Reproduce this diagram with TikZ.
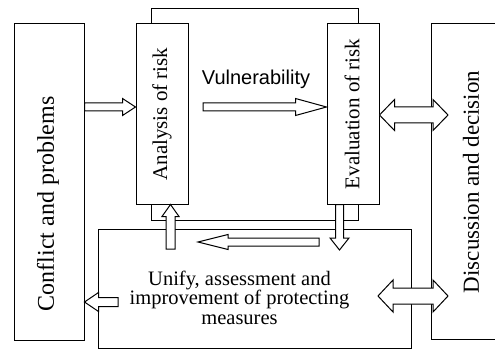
\documentclass[tikz,border=0pt]{standalone}
\usepackage{fontspec}
\setmainfont{Liberation Serif}
\newfontfamily\arialfont{Liberation Sans}
\usetikzlibrary{calc}

\tikzset{
  box/.style={draw, line width=1pt, fill=white, inner sep=0pt},
  barrow/.style={draw, line width=1pt, fill=white, line join=miter},
  lbl/.style={inner sep=0pt, font=#1},
  % block arrows: #1 shaft half width, #2 head half width, #3 head length
  rblock/.style n args={3}{to path={let \p1=(\tikztostart), \p2=(\tikztotarget) in
    (\x1,\y1-#1) -- (\x2-#3,\y1-#1) -- (\x2-#3,\y1-#2) -- (\x2,\y1)
    -- (\x2-#3,\y1+#2) -- (\x2-#3,\y1+#1) -- (\x1,\y1+#1) -- cycle}},
  lblock/.style n args={3}{to path={let \p1=(\tikztostart), \p2=(\tikztotarget) in
    (\x1,\y1-#1) -- (\x2+#3,\y1-#1) -- (\x2+#3,\y1-#2) -- (\x2,\y1)
    -- (\x2+#3,\y1+#2) -- (\x2+#3,\y1+#1) -- (\x1,\y1+#1) -- cycle}},
  ublock/.style n args={3}{to path={let \p1=(\tikztostart), \p2=(\tikztotarget) in
    (\x1-#1,\y1) -- (\x1-#1,\y2-#3) -- (\x1-#2,\y2-#3) -- (\x1,\y2)
    -- (\x1+#2,\y2-#3) -- (\x1+#1,\y2-#3) -- (\x1+#1,\y1) -- cycle}},
  dblock/.style n args={3}{to path={let \p1=(\tikztostart), \p2=(\tikztotarget) in
    (\x1-#1,\y1) -- (\x1-#1,\y2+#3) -- (\x1-#2,\y2+#3) -- (\x1,\y2)
    -- (\x1+#2,\y2+#3) -- (\x1+#1,\y2+#3) -- (\x1+#1,\y1) -- cycle}},
  lrblock/.style n args={3}{to path={let \p1=(\tikztostart), \p2=(\tikztotarget) in
    (\x1,\y1) -- (\x1+#3,\y1+#2) -- (\x1+#3,\y1+#1) -- (\x2-#3,\y1+#1)
    -- (\x2-#3,\y1+#2) -- (\x2,\y1) -- (\x2-#3,\y1-#2) -- (\x2-#3,\y1-#1)
    -- (\x1+#3,\y1-#1) -- (\x1+#3,\y1-#2) -- cycle}},
}

\begin{document}
\begin{tikzpicture}[x=1pt, y=-1pt]
\useasboundingbox (0,0) rectangle (495,350);
\clip (0,0) rectangle (495,350);

% frame joining the two risk steps
\node[box, minimum width=207pt, minimum height=211pt] (frame) at (254.5,114.5) {};

% main boxes
\node[box, minimum width=70pt, minimum height=316pt] (conflict) at (49,182) {};
\node[box, minimum width=52pt, minimum height=180pt] (analysis) at (162,114) {};
\node[box, minimum width=52pt, minimum height=180pt] (evaluation) at (353,114) {};
\node[box, minimum width=80pt, minimum height=315pt] (discussion) at (471,181.5) {};
\node[box, minimum width=313pt, minimum height=119.5pt] (measures) at (254.5,288.75) {};

% free ends of arrows
\coordinate (vstart) at (203,107);
\coordinate (upstart) at (170.5,249);
\coordinate (downend) at (339.5,250);
\coordinate (backstart) at (319,242);
\coordinate (backend) at (198,242);
\coordinate (outstart) at (118,302);
\coordinate (dtip1) at (448,115);
\coordinate (dtip2) at (448,296);
\coordinate (ltip2) at (378,296);

% block arrows
\draw[barrow, rblock={4pt}{8.5pt}{13pt}] (conflict.east |- 0,107) to (analysis.west |- 0,107);
\draw[barrow, rblock={4pt}{8.5pt}{31pt}] (vstart) to (evaluation.west |- vstart);
\draw[barrow, lrblock={8pt}{15.5pt}{15pt}] (evaluation.east |- dtip1) to (dtip1);
\draw[barrow, lrblock={8pt}{16pt}{15pt}] (ltip2) to (dtip2);
\draw[barrow, ublock={4.5pt}{8.5pt}{12pt}] (upstart) to (analysis.south -| upstart);
\draw[barrow, dblock={4pt}{9.5pt}{12pt}] (evaluation.south -| downend) to (downend);
\draw[barrow, lblock={4pt}{7.5pt}{30pt}] (backstart) to (backend);
\draw[barrow, lblock={4.5pt}{9.5pt}{14pt}] (outstart) to (conflict.east |- outstart);

% labels
\node[lbl={\fontsize{24pt}{24pt}\selectfont}, rotate=90] (tconflict) at (48,204) {Conflict and problems};
\node[lbl={\fontsize{21pt}{21pt}\selectfont}, rotate=90] (tanalysis) at (162,114) {Analysis of risk};
\node[lbl={\fontsize{21pt}{21pt}\selectfont}, rotate=90] (tevaluation) at (352,114) {Evaluation of risk};
\node[lbl={\fontsize{23pt}{23pt}\selectfont}, rotate=90] (tdiscussion) at (471,182) {Discussion and decision};
\node[lbl={\arialfont\fontsize{20pt}{20pt}\selectfont}, anchor=base] (tvuln) at (256,85) {Vulnerability};
\node[lbl={\fontsize{20.5pt}{19.5pt}\selectfont}, align=center, anchor=base] (tmeasures) at (239.5,324)
  {Unify, assessment and\\improvement of protecting\\measures};
\end{tikzpicture}
\end{document}
